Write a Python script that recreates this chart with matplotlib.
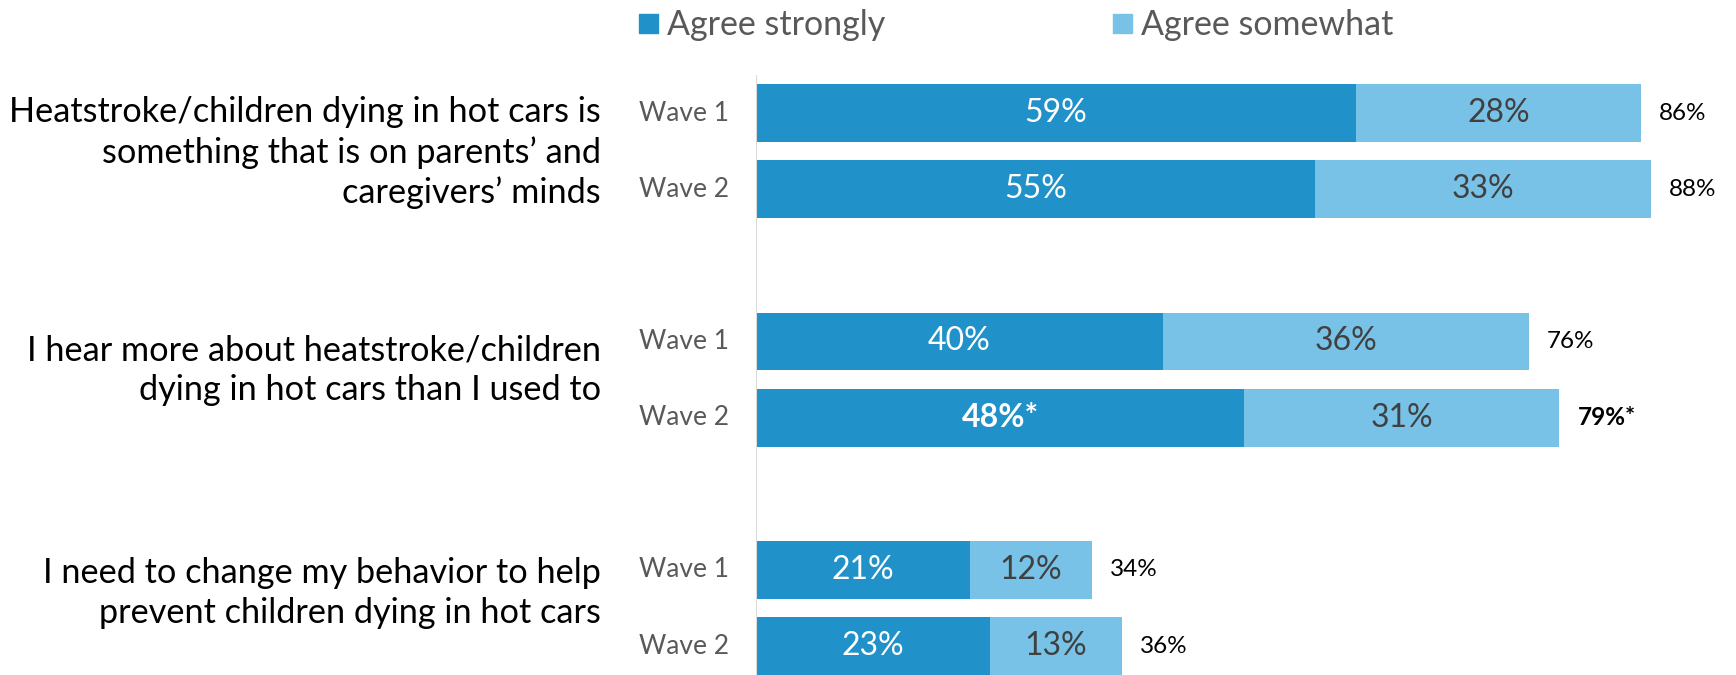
import numpy as np
import matplotlib.pyplot as plt
from matplotlib.patches import Rectangle

plt.rcParams['font.family'] = ['Lato', 'DejaVu Sans']

questions = [
    "Heatstroke/children dying in hot cars is\nsomething that is on parents\u2019 and\ncaregivers\u2019 minds",
    "I hear more about heatstroke/children\ndying in hot cars than I used to",
    "I need to change my behavior to help\nprevent children dying in hot cars",
]
waves = ["Wave 1", "Wave 2"]
series = ["Agree strongly", "Agree somewhat"]
strongly = [59, 55, 40, 48, 21, 23]
somewhat = [28, 33, 36, 31, 12, 13]
totals = [86, 88, 76, 79, 34, 36]
strong_labels = ["59%", "55%", "40%", "48%*", "21%", "23%"]
some_labels = ["28%", "33%", "36%", "31%", "12%", "13%"]
total_labels = ["86%", "88%", "76%", "79%*", "34%", "36%"]
bold_flags = [False, False, False, True, False, False]

c_strong = "#2191C9"
c_some = "#78C2E8"

W, H = 1736, 675
fig = plt.figure(figsize=(W / 100, H / 100), dpi=100)
ax = fig.add_axes([756 / W, 0, 1 - 756 / W, 1 - 75 / H])

# bar slots: two waves per question, one empty slot between questions
ypos = np.array([q * 3 + w for q in range(3) for w in range(2)])
bh = 0.76

ax.barh(ypos, strongly, height=bh, color=c_strong)
ax.barh(ypos, somewhat, left=strongly, height=bh, color=c_some)

ax.set_xlim(0, (W - 756) / 10.17)
ax.set_ylim(7.38, -0.5)
ax.axis('off')
ax.axvline(0, color="#D9D9D9", lw=1.5)

for i, y in enumerate(ypos):
    wt = 'bold' if bold_flags[i] else 'normal'
    ax.text(strongly[i] / 2, y, strong_labels[i], ha='center', va='center',
            color='white', fontsize=23, fontweight=wt)
    ax.text(strongly[i] + somewhat[i] / 2, y, some_labels[i], ha='center', va='center',
            color='#404040', fontsize=23)
    ax.annotate(total_labels[i], (strongly[i] + somewhat[i], y), xytext=(13, 0),
                textcoords='offset points', ha='left', va='center',
                color='black', fontsize=17.5, fontweight=wt)
    ax.annotate(waves[i % 2], (729 / W, y), xycoords=('figure fraction', 'data'),
                ha='right', va='center', color='#595959', fontsize=19)

q_offsets = [0.02, -0.12, -0.20]
for q, text in enumerate(questions):
    yc = q * 3 + 0.5 + q_offsets[q]
    ax.annotate(text, (601 / W, yc), xycoords=('figure fraction', 'data'),
                ha='right', va='center', color='black', fontsize=24.7,
                linespacing=1.3)

# legend
leg_x = [639, 1113]
for name, col, lx in zip(series, [c_strong, c_some], leg_x):
    fig.add_artist(Rectangle((lx / W, 1 - 33 / H), 19 / W, 19 / H,
                             transform=fig.transFigure, color=col))
    fig.text((lx + 28) / W, 1 - 25 / H, name, ha='left', va='center',
             color='#595959', fontsize=24.5)

fig.savefig("out.png", dpi=100)
